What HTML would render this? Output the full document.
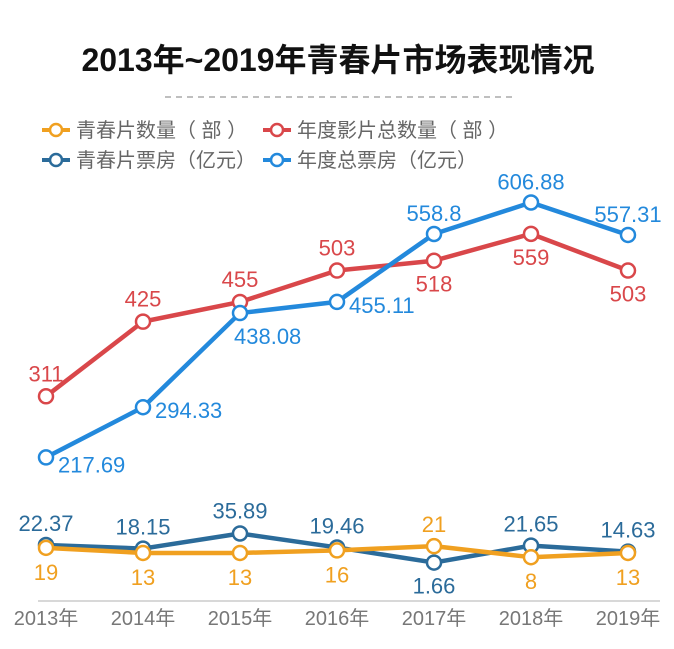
<!DOCTYPE html>
<html><head><meta charset="utf-8"><style>
body{margin:0;background:#fff;width:674px;height:644px;overflow:hidden;font-family:"Liberation Sans","Noto Sans CJK SC",sans-serif}
</style></head><body>
<svg id="chart" width="674" height="644" xmlns="http://www.w3.org/2000/svg" font-family="Liberation Sans, Noto Sans CJK SC, sans-serif">
<text x="338" y="71" text-anchor="middle" font-size="32" font-weight="bold" fill="#111">2013年~2019年青春片市场表现情况</text>
<line x1="165" y1="97" x2="515" y2="97" stroke="#999" stroke-width="1.2" stroke-dasharray="6,5"/>
<g id="legend"></g>
<line x1="38" y1="601" x2="660" y2="601" stroke="#ccc" stroke-width="1.5"/>
<g id="xlabels"></g>
<g id="series"></g>
</svg>
<script>
const years=["2013年","2014年","2015年","2016年","2017年","2018年","2019年"];
const totalFilms=[311,425,455,503,518,559,503];
const totalBox=[217.69,294.33,438.08,455.11,558.8,606.88,557.31];
const youthBox=[22.37,18.15,35.89,19.46,1.66,21.65,14.63];
const youthCount=[19,13,13,16,21,8,13];
const NS="http://www.w3.org/2000/svg";
const xS=i=>46+i*97;
const yTop=v=>600-0.655*v;
const yBot=v=>564-0.85*v;
function el(tag,attrs,parent){const e=document.createElementNS(NS,tag);for(const k in attrs)e.setAttribute(k,attrs[k]);parent.appendChild(e);return e;}
const xl=document.getElementById('xlabels');
years.forEach((y,i)=>{const t=el('text',{x:xS(i),y:625,'text-anchor':'middle','font-size':'20',fill:'#777'},xl);


t.textContent=y;});
const sg=document.getElementById('series');
function series(name,data,ys,color,labelPos){
const g=el('g',{},sg);


el('polyline',{points:data.map((v,i)=>xS(i)+','+ys(v)).join(' '),fill:'none',stroke:color,'stroke-width':'4.5','stroke-linejoin':'round'},g);
data.forEach((v,i)=>{const c=el('circle',{cx:xS(i),cy:ys(v),r:7,fill:'#fff',stroke:color,'stroke-width':'2.5'},g);


const p=labelPos[i];const t=el('text',{x:xS(i)+p[0],y:ys(v)+p[1],'text-anchor':p[2],'font-size':'22',fill:color},g);


t.textContent=String(v);});}
series('total-films',totalFilms,yTop,'#d9474a',[[0,-15,'middle'],[0,-15,'middle'],[0,-15,'middle'],[0,-15,'middle'],[0,31,'middle'],[0,31,'middle'],[0,31,'middle']]);
series('total-box-office',totalBox,yTop,'#2389dc',[[12,15,'start'],[12,11,'start'],[-6,31,'start'],[12,11,'start'],[0,-13,'middle'],[0,-13,'middle'],[0,-13,'middle']]);
series('youth-box-office',youthBox,yBot,'#2b6b9a',[[0,-14,'middle'],[0,-14,'middle'],[0,-15,'middle'],[0,-14,'middle'],[0,31,'middle'],[0,-14,'middle'],[0,-14,'middle']]);
series('youth-film-count',youthCount,yBot,'#f0a020',[[0,32,'middle'],[0,32,'middle'],[0,32,'middle'],[0,32,'middle'],[0,-14,'middle'],[0,32,'middle'],[0,32,'middle']]);
const lg=document.getElementById('legend');
const leg=[["青春片数量（ 部 ）","#f0a020",42,130],["年度影片总数量（ 部 ）","#d9474a",263,130],["青春片票房（亿元）","#2b6b9a",42,160],["年度总票房（亿元）","#2389dc",263,160]];
leg.forEach(l=>{const g=el('g',{},lg);


el('line',{x1:l[2],y1:l[3],x2:l[2]+28,y2:l[3],stroke:l[1],'stroke-width':'4'},g);
el('circle',{cx:l[2]+14,cy:l[3],r:6,fill:'#fff',stroke:l[1],'stroke-width':'2.5'},g);
const t=el('text',{x:l[2]+34,y:l[3]+7,'font-size':'20',fill:'#666'},g);t.textContent=l[0];});
</script>
</body></html>
